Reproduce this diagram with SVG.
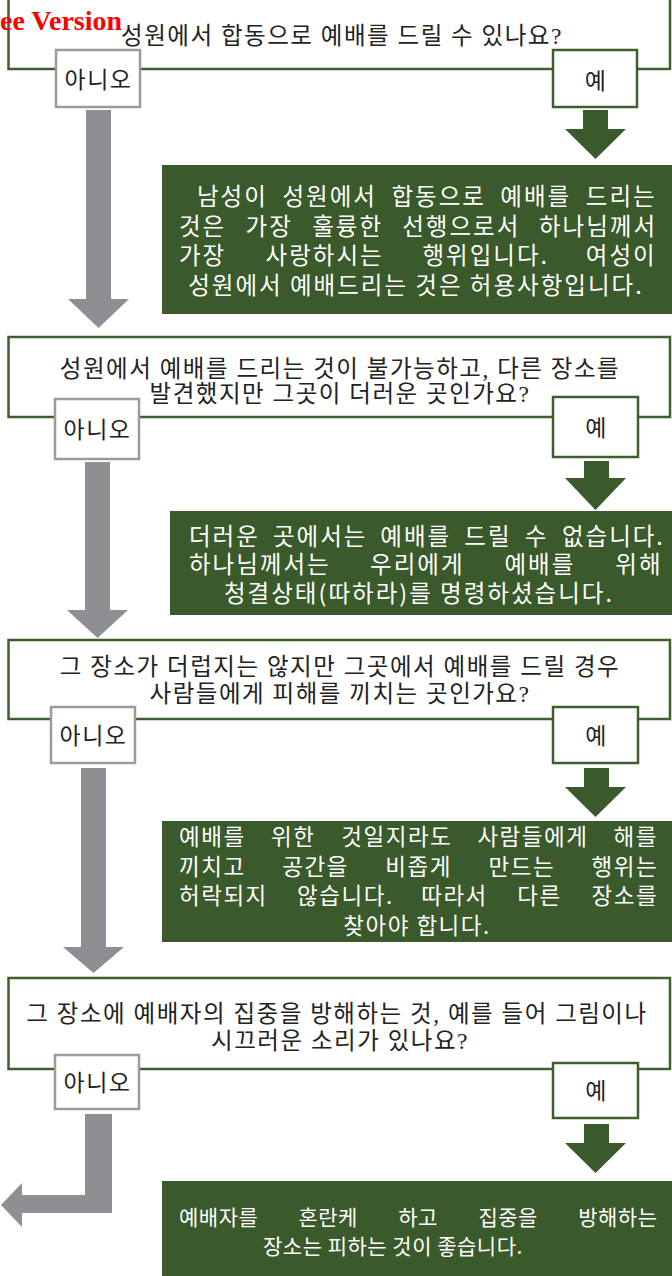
<svg xmlns="http://www.w3.org/2000/svg" width="672" height="1276" viewBox="0 0 672 1276">
<style>
.q{fill:#fff;stroke:#3d5f2e;stroke-width:2.5}
.no{fill:#fff;stroke:#9a9b9d;stroke-width:2.5}
.yes{fill:#fff;stroke:#3d5f2e;stroke-width:2.5}
.res{fill:#3a5a2b}
.qt{font-family:'Liberation Serif','Noto Sans CJK KR',serif;font-size:23.5px;letter-spacing:1.5px;fill:#222;text-anchor:middle}
.bt{font-family:'Noto Sans CJK KR',sans-serif;font-size:23px;letter-spacing:1.5px;fill:#222;text-anchor:middle}
.rt{font-family:'Noto Sans CJK KR',sans-serif;font-size:23.5px;letter-spacing:2px;fill:#fff}
.rs{font-size:22.5px;letter-spacing:1.5px}
.rx{font-size:21px;letter-spacing:0.5px}
.rc{text-anchor:middle}
.ga{fill:#8e8f93}
.gr{fill:#3a5a2b}
.wm{font-family:'Liberation Serif',serif;font-weight:bold;font-size:28px;fill:#f00}
</style>

<g id="q1">
<rect class="q" x="8.5" y="-10" width="661.5" height="79"/>
<text class="qt" x="342" y="44">성원에서 합동으로 예배를 드릴 수 있나요?</text>
<g id="q1-no"><rect class="no" x="56" y="50" width="84" height="57"/><text class="bt" x="98.5" y="88">아니오</text></g>
<g id="q1-yes"><rect class="yes" x="553" y="50" width="84" height="57"/><text class="bt" x="596" y="88.5">예</text></g>
</g>

<g id="r1">
<rect class="res" x="162" y="165" width="510" height="149"/>
<text class="rt" y="205"><tspan x="197">남성이</tspan><tspan x="282.5">성원에서</tspan><tspan x="391.4">합동으로</tspan><tspan x="500.3">예배를</tspan><tspan x="585.8">드리는</tspan></text>
<text class="rt" y="234.5"><tspan x="179">것은</tspan><tspan x="245.6">가장</tspan><tspan x="312.2">훌륭한</tspan><tspan x="402.2">선행으로서</tspan><tspan x="539">하나님께서</tspan></text>
<text class="rt" y="264"><tspan x="179">가장</tspan><tspan x="265.6">사랑하시는</tspan><tspan x="422.5">행위입니다.</tspan><tspan x="585.8">여성이</tspan></text>
<text class="rt rc" x="416" y="293.5">성원에서 예배드리는 것은 허용사항입니다.</text>
</g>

<g id="q2">
<rect class="q" x="8.5" y="337" width="661.5" height="80"/>
<text class="qt" x="340" y="376.5">성원에서 예배를 드리는 것이 불가능하고, 다른 장소를</text>
<text class="qt" x="340" y="401.5">발견했지만 그곳이 더러운 곳인가요?</text>
<g id="q2-no"><rect class="no" x="55" y="399" width="84" height="60"/><text class="bt" x="97.5" y="437.5">아니오</text></g>
<g id="q2-yes"><rect class="yes" x="553" y="397" width="85" height="60"/><text class="bt" x="596.5" y="435.5">예</text></g>
</g>

<g id="r2">
<rect class="res" x="170" y="511" width="502" height="104"/>
<text class="rt" y="544.5"><tspan x="189">더러운</tspan><tspan x="273">곳에서는</tspan><tspan x="380.3">예배를</tspan><tspan x="464.3">드릴</tspan><tspan x="524.8">수</tspan><tspan x="561.9">없습니다.</tspan></text>
<text class="rt" y="573"><tspan x="189">하나님께서는</tspan><tspan x="370.1">우리에게</tspan><tspan x="504.4">예배를</tspan><tspan x="615.3">위해</tspan></text>
<text class="rt rc" x="419" y="601.5">청결상태(따하라)를 명령하셨습니다.</text>
</g>

<g id="q3">
<rect class="q" x="8.5" y="640" width="661.5" height="79"/>
<text class="qt" x="340" y="674.5">그 장소가 더럽지는 않지만 그곳에서 예배를 드릴 경우</text>
<text class="qt" x="340" y="701.5">사람들에게 피해를 끼치는 곳인가요?</text>
<g id="q3-no"><rect class="no" x="51" y="707" width="84" height="56"/><text class="bt" x="93.5" y="743.5">아니오</text></g>
<g id="q3-yes"><rect class="yes" x="553" y="707" width="85" height="56"/><text class="bt" x="596.5" y="743.5">예</text></g>
</g>

<g id="r3">
<rect class="res" x="162" y="821" width="510" height="121"/>
<text class="rt rs" y="845"><tspan x="179">예배를</tspan><tspan x="271.1">위한</tspan><tspan x="341.3">것일지라도</tspan><tspan x="477.4">사람들에게</tspan><tspan x="613.5">해를</tspan></text>
<text class="rt rs" y="874.5"><tspan x="179">끼치고</tspan><tspan x="282.2">공간을</tspan><tspan x="385.3">비좁게</tspan><tspan x="488.5">만드는</tspan><tspan x="591.6">행위는</tspan></text>
<text class="rt rs" y="904"><tspan x="179">허락되지</tspan><tspan x="297.1">않습니다.</tspan><tspan x="421.2">따라서</tspan><tspan x="517.3">다른</tspan><tspan x="591.5">장소를</tspan></text>
<text class="rt rs rc" x="417" y="933.5">찾아야 합니다.</text>
</g>

<g id="q4">
<rect class="q" x="8.5" y="978" width="661.5" height="91"/>
<text class="qt" x="337" y="1021.5">그 장소에 예배자의 집중을 방해하는 것, 예를 들어 그림이나</text>
<text class="qt" x="340" y="1048.5">시끄러운 소리가 있나요?</text>
<g id="q4-no"><rect class="no" x="55" y="1055" width="84" height="54"/><text class="bt" x="97.5" y="1090.5">아니오</text></g>
<g id="q4-yes"><rect class="yes" x="553" y="1063" width="85" height="55"/><text class="bt" x="596.5" y="1098.5">예</text></g>
</g>

<g id="r4">
<rect class="res" x="162" y="1181" width="510" height="100"/>
<text class="rt rx" y="1225"><tspan x="179">예배자를</tspan><tspan x="298.4">혼란케</tspan><tspan x="398.2">하고</tspan><tspan x="478.4">집중을</tspan><tspan x="578.2">방해하는</tspan></text>
<text class="rt rx" x="263" y="1254">장소는 피하는 것이 좋습니다.</text>
</g>

<g id="connectors">
<polygon class="ga" points="86,110 111,110 111,299 129,299 98.5,328 68,299 86,299"/>
<polygon class="ga" points="85,462 110,462 110,610 128,610 97.5,638 67,610 85,610"/>
<polygon class="ga" points="81,768 106,768 106,947 124,947 93.5,973 63,947 81,947"/>
<polygon class="ga" points="85,1114 112,1114 112,1213 22,1213 22,1227 1,1205 22,1183 22,1195 85,1195"/>
<polygon class="gr" points="583,110 608,110 608,129 626,129 595.5,159 565,129 583,129"/>
<polygon class="gr" points="584,461 609,461 609,478 626,478 595.5,510 565,478 584,478"/>
<polygon class="gr" points="584,768 609,768 609,787 626,787 595.5,817 565,787 584,787"/>
<polygon class="gr" points="584,1124 609,1124 609,1143 626,1143 595.5,1173 565,1143 584,1143"/>
</g>

<text class="wm" x="0" y="30">ee Version</text>
</svg>
